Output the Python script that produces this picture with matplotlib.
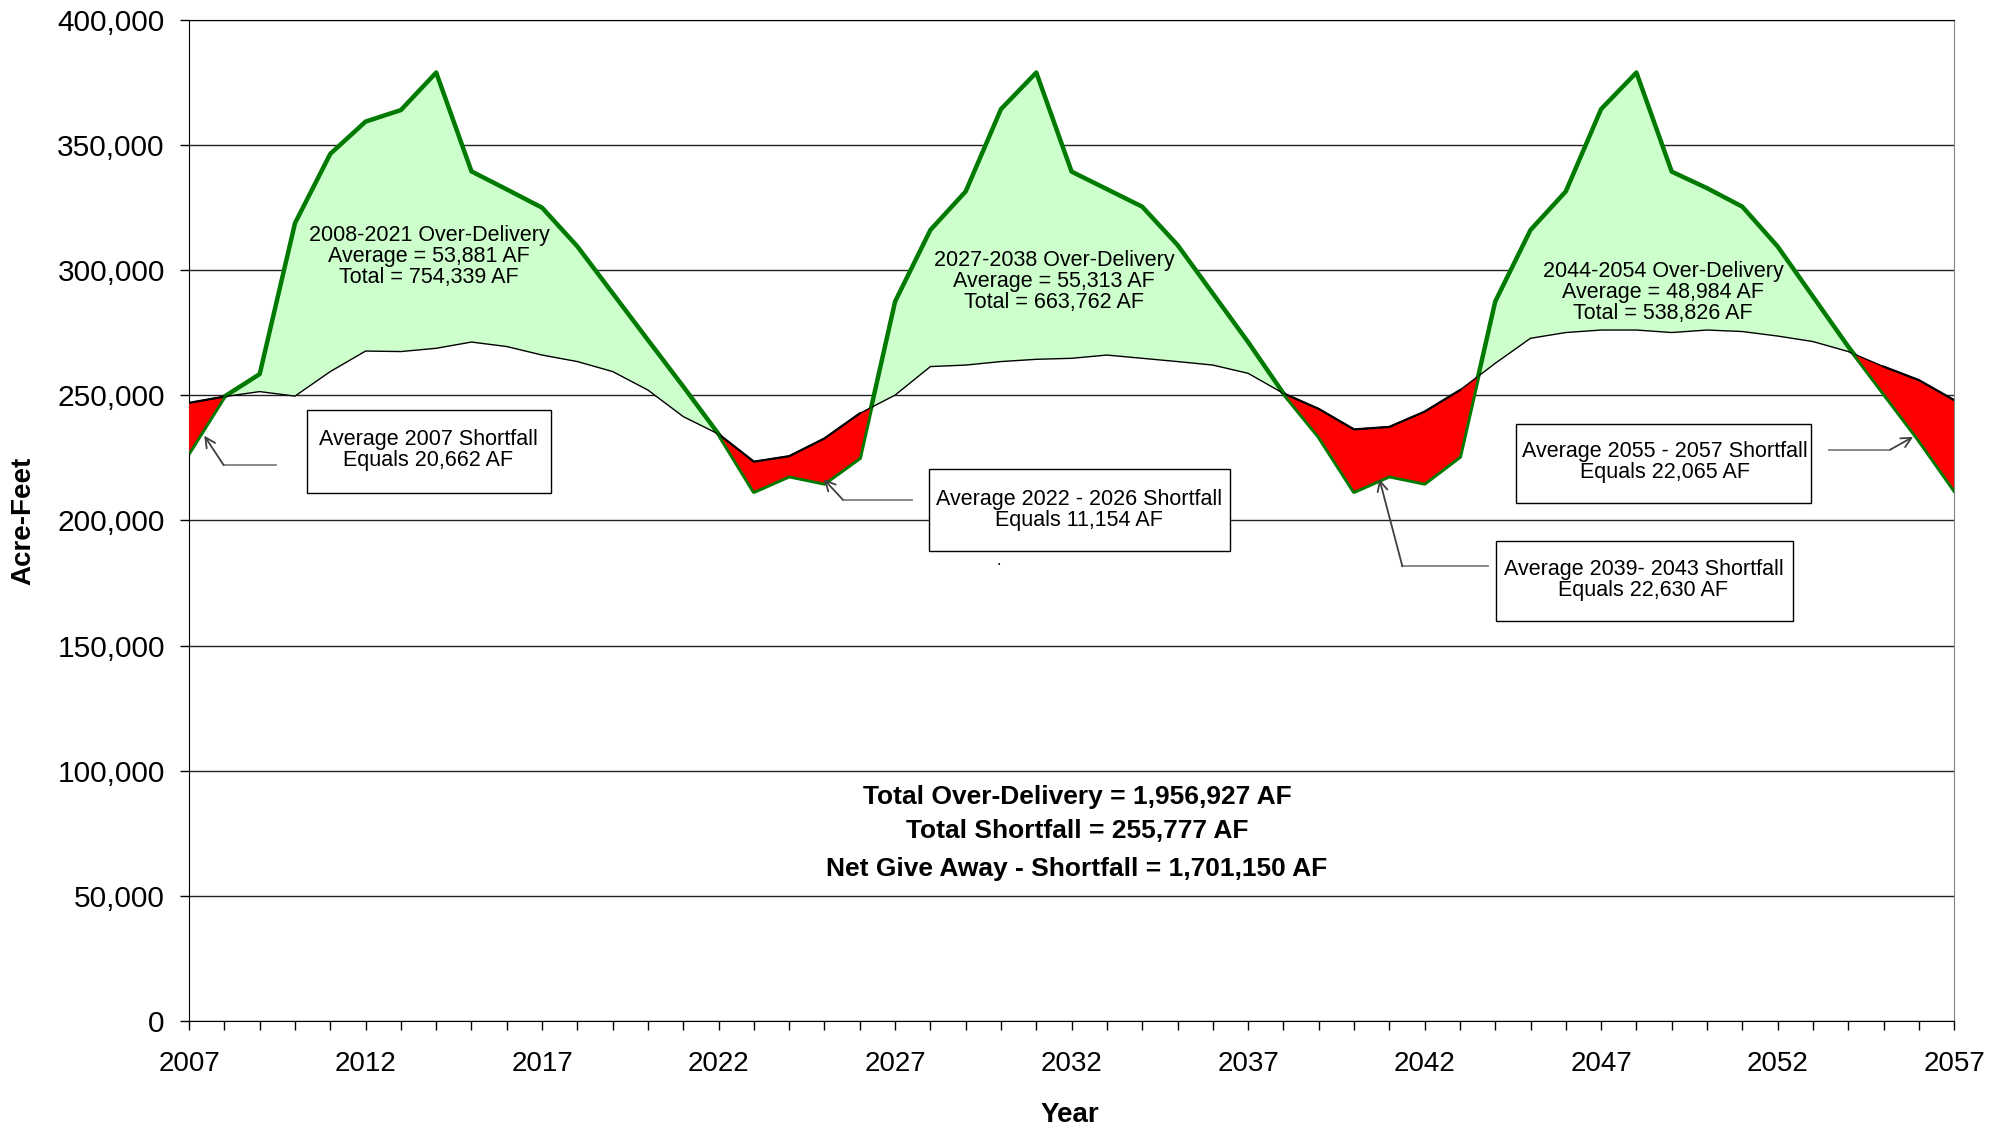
import numpy as np
import matplotlib.pyplot as plt
from matplotlib.patches import Rectangle
from matplotlib.ticker import FuncFormatter, MultipleLocator

plt.rcParams['font.family'] = ['Liberation Sans', 'DejaVu Sans']

# Daten
years = np.arange(2007, 2058)
delivery = [227000, 249500, 258500, 318800, 346500, 359400, 364000, 379000, 339500, 332300,
            325000, 309500, 290800, 272100, 253500, 234500, 211500, 217700, 214800, 225000,
            287500, 316100, 331500, 364400, 379000, 339400, 332400, 325400, 310100, 290700,
            271300, 250800, 233500, 211500, 217700, 214800, 225500, 287500, 316100, 331500,
            364400, 379000, 339400, 332800, 325400, 309500, 289500, 269500, 250800, 232100,
            212100]
requirement = [247000, 249500, 251500, 249700, 259500, 267700, 267500, 268800, 271300, 269500,
               266100, 263500, 259500, 252100, 241500, 234500, 223500, 225700, 232800, 242800,
               250100, 261500, 262100, 263500, 264400, 264800, 266100, 264800, 263500, 262100,
               258800, 250800, 244600, 236400, 237400, 243500, 252100, 262800, 272800, 275100,
               276100, 276100, 275100, 276100, 275500, 273700, 271500, 267500, 261500, 256100,
               248100]
year_ticks = list(range(2007, 2058, 5))

over_labels = [
    (2013.8, 305500, "2008-2021 Over-Delivery\nAverage = 53,881 AF\nTotal = 754,339 AF"),
    (2031.5, 295300, "2027-2038 Over-Delivery\nAverage = 55,313 AF\nTotal = 663,762 AF"),
    (2048.75, 291200, "2044-2054 Over-Delivery\nAverage = 48,984 AF\nTotal = 538,826 AF"),
]
# Textfeld: (x0, x1, y0, y1), Textmitte, Pfeil: Start, Knick, Spitze
short_boxes = [
    ((2010.33, 2017.24, 210850, 244100), (2013.78, 228000),
     "Average 2007 Shortfall\nEquals 20,662 AF",
     (2009.46, 222100), (2007.98, 222100), (2007.43, 233900)),
    ((2027.95, 2036.49, 187800, 220600), (2032.2, 204000),
     "Average 2022 - 2026 Shortfall\nEquals 11,154 AF",
     (2027.48, 208300), (2025.52, 208300), (2024.98, 216500)),
    ((2044.01, 2052.44, 159700, 191900), (2048.2, 176300),
     "Average 2039- 2043 Shortfall\nEquals 22,630 AF",
     (2043.79, 181700), (2041.37, 181700), (2040.72, 216500)),
    ((2044.59, 2052.95, 206800, 238500), (2048.8, 223300),
     "Average 2055 - 2057 Shortfall\nEquals 22,065 AF",
     (2053.45, 228300), (2055.19, 228300), (2055.84, 233400)),
]
totals = ["Total Over-Delivery = 1,956,927 AF",
          "Total Shortfall = 255,777 AF",
          "Net Give Away - Shortfall = 1,701,150 AF"]
totals_y = [89560, 75740, 60900]

dlv = np.array(delivery)
req = np.array(requirement)

fig = plt.figure(figsize=(20.03, 11.29), dpi=100)
ax = fig.add_axes([0.0944, 0.0957, 0.8812, 0.8866])

ax.fill_between(years, req, dlv, where=dlv >= req, interpolate=True,
                color='#ccffcc', lw=0, zorder=1.5)
ax.plot(years, dlv, color='#007a00', lw=3.2, zorder=2)
ax.fill_between(years, req, dlv, where=dlv <= req, interpolate=True,
                color='#ff0000', lw=0, zorder=3)
ax.plot(years, req, color='black', lw=1.0, zorder=4)
# in den roten Bereichen ist die schwarze Linie etwas kräftiger
ax.plot(years, np.where(dlv <= req, req, np.nan), color='black', lw=1.6, zorder=4)
ax.plot(years, dlv, color='#007a00', lw=1.0, zorder=5)

ax.set_xlim(2007, 2057)
ax.set_ylim(0, 400000)
ax.set_xticks(year_ticks)
ax.xaxis.set_minor_locator(MultipleLocator(1))
ax.yaxis.set_major_locator(MultipleLocator(50000))
ax.yaxis.set_major_formatter(FuncFormatter(lambda v, p: f"{int(v):,}"))
ax.tick_params(axis='both', which='both', direction='out', length=6.5, width=1)
ax.tick_params(axis='x', labelsize=20, pad=15)
ax.tick_params(axis='y', labelsize=21.5, pad=11)
ax.grid(axis='y', color='#222222', lw=1.0)
ax.set_axisbelow(True)
for s in ['left', 'bottom', 'top']:
    ax.spines[s].set_color('black')
ax.spines['right'].set_color('#808080')

for x, y, t in over_labels:
    ax.text(x, y, t, ha='center', va='center', fontsize=15.5, linespacing=1.0, zorder=6)

for (x0, x1, y0, y1), (tx, ty), t, p0, p1, p2 in short_boxes:
    ax.add_patch(Rectangle((x0, y0), x1 - x0, y1 - y0, facecolor='white',
                           edgecolor='black', lw=1.0, zorder=6))
    ax.text(tx, ty, t, ha='center', va='center', fontsize=15.5, linespacing=1.0, zorder=7)
    ax.plot([p0[0], p1[0]], [p0[1], p1[1]], color='#808080', lw=1.3, zorder=6)
    ax.annotate('', xy=p2, xytext=p1,
                arrowprops=dict(arrowstyle='->', color='#404040', lw=1.3,
                                shrinkA=0, shrinkB=0, mutation_scale=18), zorder=6)

for t, y in zip(totals, totals_y):
    ax.text(2032.15, y, t, ha='center', va='center', fontsize=19,
            fontweight='bold', zorder=6)

ax.text(2029.94, 182200, '.', ha='center', va='baseline', fontsize=12)

fig.text(0.0115, 0.539, 'Acre-Feet', rotation=90, ha='center', va='center',
         fontsize=20, fontweight='bold')
fig.text(0.534, 0.0125, 'Year', ha='center', va='center',
         fontsize=20, fontweight='bold')

fig.savefig('out.png', dpi=100, facecolor='white')
plt.close()
